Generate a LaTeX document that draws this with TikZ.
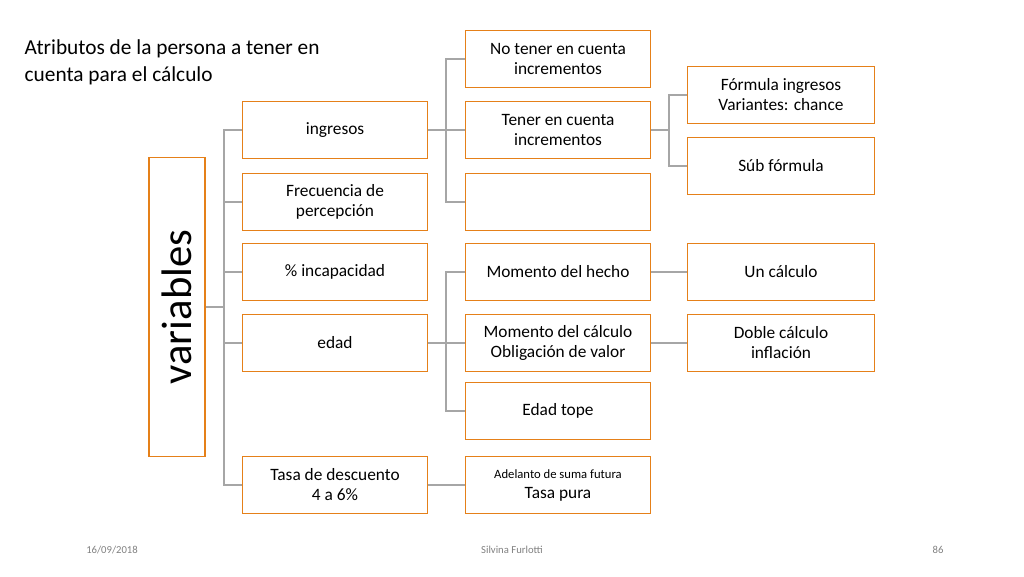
\documentclass[tikz,border=0pt]{standalone}
\usepackage{fontspec}
\setmainfont{Carlito}
\begin{document}
\begin{tikzpicture}[x=0.75pt,y=-0.75pt,
 bx/.style={draw=orange!60!brown,line width=0.9pt,fill=white,inner sep=1pt,align=center,font=\fontsize{13}{15}\selectfont},
 ln/.style={draw=gray!70,line width=0.9pt},
 ft/.style={text=gray,font=\fontsize{8}{9}\selectfont}]
\useasboundingbox (0,0) rectangle (1024,576);
\newcommand{\bxat}[4]{\node[bx,minimum width={(#3)*0.75pt},minimum height={(#4)*0.75pt}] (#1) at (#2) {};}
\node[anchor=north west,align=left,font=\fontsize{16}{20}\selectfont] (title) at (20,35) {Atributos de la persona a tener en\\cuenta para el cálculo};
% boxes
\node[bx,minimum width=42pt,minimum height=224pt] (var) at (177,307) {};
\node[rotate=90,font=\fontsize{32}{36}\selectfont] (vart) at (177,307) {variables};
\node[bx,minimum width=139pt,minimum height=43pt] (ing) at (335,130) {ingresos};
\node[bx,minimum width=139pt,minimum height=43pt] (fre) at (335,202) {Frecuencia de\\percepción};
\node[bx,minimum width=139pt,minimum height=43pt] (inc) at (335,272) {\% incapacidad};
\node[bx,minimum width=139pt,minimum height=43pt] (eda) at (335,343) {edad};
\node[bx,minimum width=139pt,minimum height=43pt] (tas) at (335,485) {\fontsize{13}{23}\selectfont Tasa de descuento\\4 a 6\%};
\node[bx,minimum width=139pt,minimum height=43pt] (not) at (558,59) {No tener en cuenta\\incrementos};
\node[bx,minimum width=139pt,minimum height=43pt] (ten) at (558,130) {Tener en cuenta\\incrementos};
\node[bx,minimum width=139pt,minimum height=43pt] (emp) at (558,202) {};
\node[bx,minimum width=139pt,minimum height=43pt] (mhe) at (558,272) {Momento del hecho};
\node[bx,minimum width=139pt,minimum height=43pt] (mca) at (558,343) {\fontsize{13}{23}\selectfont Momento del cálculo\\Obligación de valor};
\node[bx,minimum width=139pt,minimum height=43pt] (top) at (558,411) {Edad tope};
\node[bx,minimum width=139pt,minimum height=43pt] (ade) at (558,485) {\fontsize{9.5}{16}\selectfont Adelanto de suma futura\\Tasa pura};
\node[bx,minimum width=140pt,minimum height=43pt] (for) at (781,95) {\fontsize{13}{23}\selectfont Fórmula ingresos\\Variantes: chance};
\node[bx,minimum width=140pt,minimum height=43pt] (sub) at (781,166) {Súb fórmula};
\node[bx,minimum width=140pt,minimum height=43pt] (unc) at (781,272) {Un cálculo};
\node[bx,minimum width=140pt,minimum height=43pt] (dob) at (781,343) {\fontsize{13}{23}\selectfont Doble cálculo\\inflación};
% connectors
\coordinate (b1) at (224,307);
\draw[ln] (var.east) -- (b1);
\foreach \n in {ing,fre,inc,eda,tas} \draw[ln] (b1) |- (\n.west);
\coordinate (b2) at (446,130);
\draw[ln] (ing.east) -- (b2);
\foreach \n in {not,ten,emp} \draw[ln] (b2) |- (\n.west);
\coordinate (b3) at (446,343);
\draw[ln] (eda.east) -- (b3);
\foreach \n in {mhe,mca,top} \draw[ln] (b3) |- (\n.west);
\coordinate (b4) at (669,130);
\draw[ln] (ten.east) -- (b4);
\foreach \n in {for,sub} \draw[ln] (b4) |- (\n.west);
\draw[ln] (tas) -- (ade);
\draw[ln] (mhe) -- (unc);
\draw[ln] (mca) -- (dob);
% footer
\node[ft] (f1) at (112,550) {16/09/2018};
\node[ft] (f2) at (512,550) {Silvina Furlotti};
\node[ft] (f3) at (938,550) {86};
\end{tikzpicture}
\end{document}
